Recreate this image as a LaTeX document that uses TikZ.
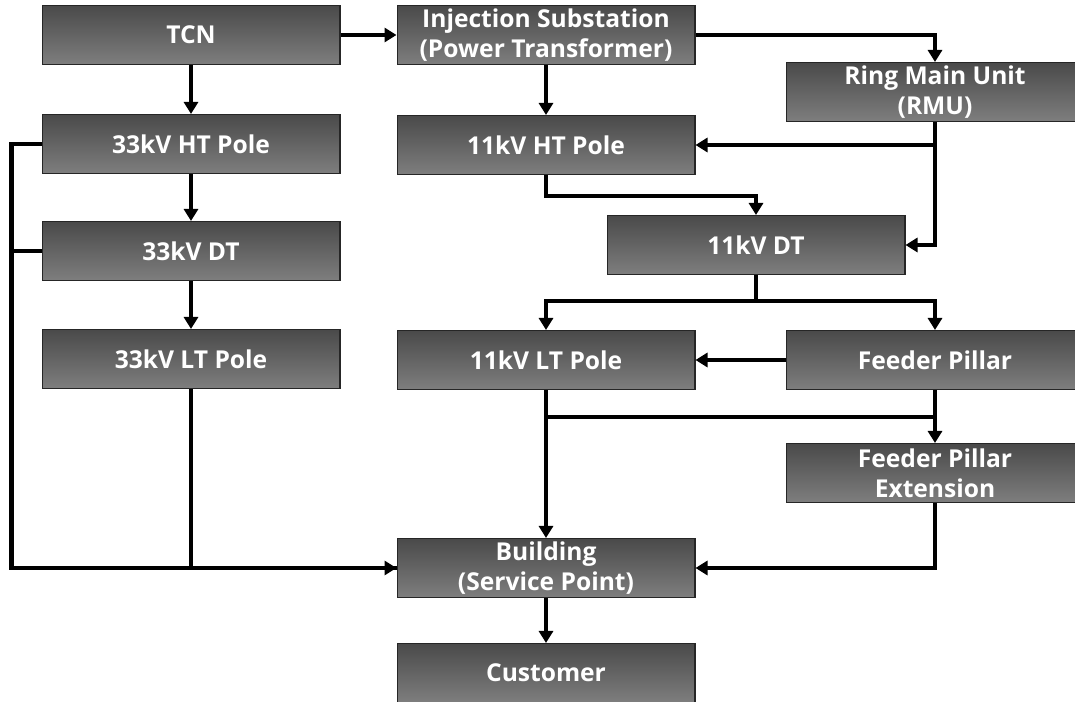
\documentclass[tikz,border=0pt]{standalone}
\usepackage{fontspec}
\setmainfont{Open Sans}
\usetikzlibrary{positioning, arrows.meta, calc}

\definecolor{boxtop}{HTML}{4A4A4A}
\definecolor{boxbottom}{HTML}{7E7E7E}

\begin{document}
\begin{tikzpicture}[
    x=0.02cm, y=-0.02cm,
    block/.style={draw=black!85, line width=0.6pt, top color=boxtop, bottom color=boxbottom,
        minimum width=5.96cm, minimum height=1.18cm, inner sep=0pt, align=center,
        text=white, font=\bfseries\fontsize{14}{17}\selectfont},
    feed/.style={line width=2.3pt},
    arrow/.style={feed, -{Triangle[length=2.4mm, width=2.8mm]}}
]
    \clip (0,0) rectangle (1075,702);

    % Left column (33kV)
    \node[block] (tcn) at (191,35) {TCN};
    \node[block] (htA) at (191,144) {33kV HT Pole};
    \node[block] (dtA) at (191,251) {33kV DT};
    \node[block] (ltA) at (191,359) {33kV LT Pole};

    % Middle and right (11kV)
    \node[block] (inj) at (546,35) {Injection Substation\\(Power Transformer)};
    \node[block] (rmu) at (935,92) {Ring Main Unit\\(RMU)};
    \node[block] (htB) at (546,145) {11kV HT Pole};
    \node[block] (dtB) at (756,245) {11kV DT};
    \node[block] (ltB) at (546,360) {11kV LT Pole};
    \node[block] (fp) at (935,360) {Feeder Pillar};
    \node[block] (fpx) at (935,473) {Feeder Pillar\\Extension};

    % Service end
    \node[block] (bld) at (546,568) {Building\\(Service Point)};
    \node[block] (cust) at (546,673) {Customer};

    % 33kV path
    \draw[arrow] (tcn) -- (inj);
    \draw[arrow] (tcn) -- (htA);
    \draw[arrow] (htA) -- (dtA);
    \draw[arrow] (dtA) -- (ltA);
    \draw[arrow] (htA.west) -- ++(-30,0) |- (bld.west);
    \draw[feed] (dtA.west) -- ++(-30,0);
    \draw[feed] (ltA.south) |- (bld.west);

    % 11kV path
    \draw[arrow] (inj) -- (htB);
    \draw[arrow] (inj.east) -| (rmu.north);
    \draw[arrow] (rmu.south) |- (htB.east);
    \draw[arrow] (rmu.south) |- (dtB.east);
    \draw[arrow] (htB.south) -- ++(0,21) -| (dtB.north);
    \draw[feed] (dtB.south) -- ++(0,26) coordinate (split);
    \draw[arrow] (split) -| (ltB.north);
    \draw[arrow] (split) -| (fp.north);
    \draw[arrow] (fp) -- (ltB);
    \draw[arrow] (fp) -- (fpx);
    \draw[feed] ($(ltB.south)+(0,27)$) -| (fp.south);
    \draw[arrow] (ltB) -- (bld);
    \draw[arrow] (fpx.south) |- (bld.east);

    % Customer
    \draw[arrow] (bld) -- (cust);
\end{tikzpicture}
\end{document}
